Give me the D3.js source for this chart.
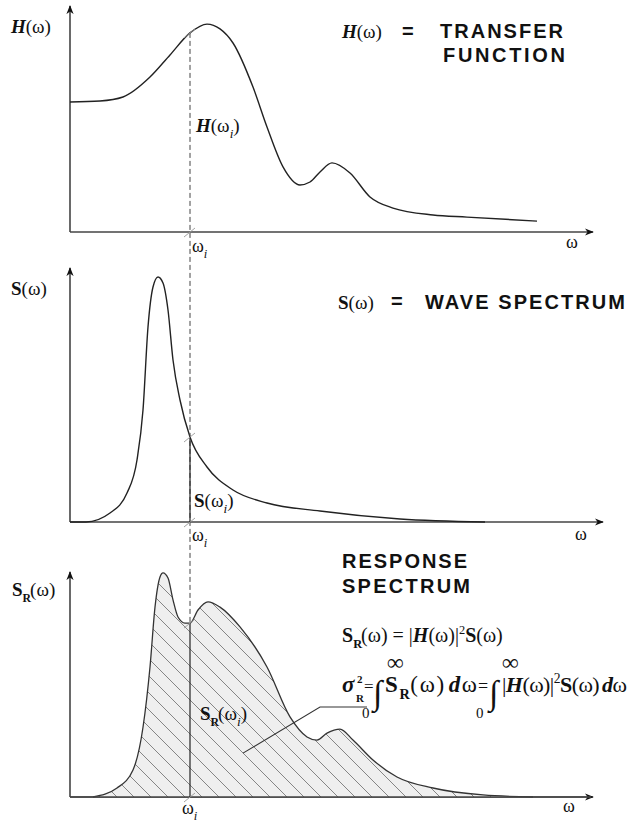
<!DOCTYPE html>
<html><head><meta charset="utf-8">
<script src="https://cdn.jsdelivr.net/npm/d3@7"></script>
<style>html,body{margin:0;padding:0;background:#fff;}svg{display:block;}</style>
</head><body>
<svg id="chart" width="629" height="825"></svg>
<script>
// ---------- DATA ----------
const omegaI = 12;
// Transfer function H(ω)
const hOmega = [0, 3, 5.3, 8, 10, 12, 13.7, 15, 16.3, 18.3, 19.7, 21.3, 23, 24, 25, 26.2, 28, 30, 32.3, 36.3, 39.7, 46.7];
const hValue = [6.19, 6.24, 6.43, 7.38, 8.43, 9.48, 9.9, 9.67, 9.0, 6.9, 5.0, 3.1, 2.24, 2.38, 2.86, 3.29, 2.81, 1.67, 1.14, 0.81, 0.71, 0.52];
// Wave spectrum S(ω)
const sOmega = [0, 1.6, 4, 5.7, 6.7, 7.3, 7.8, 8.3, 8.8, 9.3, 9.8, 10.3, 11, 12, 13.7, 16.3, 19.7, 25, 33, 41.5];
const sValue = [0, 0, 0.36, 1.16, 2.48, 4.48, 7.8, 9.4, 9.8, 9.56, 8.48, 6.48, 4.88, 3.4, 2.2, 1.28, 0.76, 0.44, 0.12, 0];
// Response spectrum S_R(ω)
const rOmega = [0, 2.3, 4.7, 6.3, 7.3, 8, 8.5, 9, 9.3, 9.8, 10.3, 10.8, 11.5, 12, 12.8, 13.8, 15, 17, 19.7, 22, 23.7, 24.7, 25.7, 27, 28.3, 30.3, 32.7, 36.3, 41.3, 46.3];
const rValue = [0, 0, 0.4, 1.2, 3.1, 5.78, 8.44, 9.78, 9.96, 9.73, 8.76, 8.0, 7.73, 7.73, 8.31, 8.67, 8.44, 7.56, 5.78, 3.56, 2.67, 2.53, 2.84, 3.02, 2.53, 1.64, 0.89, 0.4, 0.09, 0];
// leader line from S_R(ω_i) label into the area (data coords)
const leaderOmega = [17.3, 25, 29.7];
const leaderValue = [1.95, 4, 4];

// ---------- SETUP ----------
const svg = d3.select('#chart');
const SERIF = "'Liberation Serif','Times New Roman',serif";
const SANS = "'Liberation Sans',Arial,sans-serif";
const axisCol = '#444';

const defs = svg.append('defs');
defs.append('marker').attr('id','arrow').attr('viewBox','0 0 10 10')
  .attr('refX',9).attr('refY',5).attr('markerWidth',9).attr('markerHeight',9)
  .attr('markerUnits','userSpaceOnUse').attr('orient','auto')
  .append('path').attr('d','M0,1 L10,5 L0,9 L3,5 z').attr('fill','#111');
const pat = defs.append('pattern').attr('id','hatch').attr('patternUnits','userSpaceOnUse')
  .attr('width',17).attr('height',17);
pat.append('rect').attr('width',17).attr('height',17).attr('fill','#efefef');
pat.append('path').attr('d','M0,0 L17,17 M-2,15 L2,19 M15,-2 L19,2')
  .attr('stroke','#6a6a6a').attr('stroke-width',0.8);

const x = d3.scaleLinear().domain([0, 52]).range([70, 590]);
const panels = [
  {y: d3.scaleLinear().domain([0,10]).range([232, 22]), top: 6, xEnd: 593},
  {y: d3.scaleLinear().domain([0,10]).range([522, 272]), top: 268, xEnd: 603},
  {y: d3.scaleLinear().domain([0,10]).range([797, 572]), top: 572, xEnd: 593}
];
function interp(xs, ys, v){
  const i = d3.bisectRight(xs, v) - 1;
  const t = (v - xs[i]) / (xs[i+1] - xs[i]);
  return ys[i] + t * (ys[i+1] - ys[i]);
}

// ---------- AXES ----------
panels.forEach(p => {
  const y0 = p.y(0);
  svg.append('line').attr('x1',x(0)).attr('x2',x(0)).attr('y1',y0).attr('y2',p.top)
    .attr('stroke',axisCol).attr('stroke-width',1.6).attr('marker-end','url(#arrow)');
  svg.append('line').attr('x1',x(0)).attr('x2',p.xEnd).attr('y1',y0).attr('y2',y0)
    .attr('stroke',axisCol).attr('stroke-width',1.6).attr('marker-end','url(#arrow)');
});

// ---------- CURVES ----------
const p1 = panels[0], p2 = panels[1], p3 = panels[2];
const curve = d3.curveMonotoneX;
const hData = hOmega.map((w,i)=>[w,hValue[i]]);
const sData = sOmega.map((w,i)=>[w,sValue[i]]);
const rData = rOmega.map((w,i)=>[w,rValue[i]]);

svg.append('path').datum(rData)
  .attr('d', d3.area().x(d=>x(d[0])).y0(p3.y(0)).y1(d=>p3.y(d[1])).curve(curve))
  .attr('fill','url(#hatch)');

svg.append('path').datum(hData)
  .attr('d', d3.line().x(d=>x(d[0])).y(d=>p1.y(d[1])).curve(curve))
  .attr('fill','none').attr('stroke','#222').attr('stroke-width',1.4);
svg.append('path').datum(sData)
  .attr('d', d3.line().x(d=>x(d[0])).y(d=>p2.y(d[1])).curve(curve))
  .attr('fill','none').attr('stroke','#222').attr('stroke-width',1.4);
svg.append('path').datum(rData.filter(d=>d[0]>=2.3))
  .attr('d', d3.line().x(d=>x(d[0])).y(d=>p3.y(d[1])).curve(curve))
  .attr('fill','none').attr('stroke','#333').attr('stroke-width',1.3);

svg.append('line').attr('x1',x(0)).attr('x2',p3.xEnd - 2).attr('y1',p3.y(0)).attr('y2',p3.y(0))
  .attr('stroke',axisCol).attr('stroke-width',1.6);

// ---------- ω_i guide lines ----------
const xi = x(omegaI);
const hI = p1.y(interp(hOmega,hValue,omegaI));
const sI = p2.y(interp(sOmega,sValue,omegaI));
const rI = p3.y(interp(rOmega,rValue,omegaI));
svg.append('line').attr('x1',xi).attr('x2',xi).attr('y1',hI).attr('y2',rI)
  .attr('stroke','#444').attr('stroke-width',1).attr('stroke-dasharray','5,3');
svg.append('line').attr('x1',xi).attr('x2',xi).attr('y1',sI).attr('y2',p2.y(0))
  .attr('stroke','#222').attr('stroke-width',1.2);
svg.append('line').attr('x1',xi).attr('x2',xi).attr('y1',rI).attr('y2',p3.y(0))
  .attr('stroke','#222').attr('stroke-width',1.2);
[hI, p1.y(0), sI, p2.y(0), rI, p3.y(0)].forEach(yy=>{
  svg.append('line').attr('x1',xi-6).attr('y1',yy+5).attr('x2',xi+5).attr('y2',yy-4)
    .attr('stroke','#999').attr('stroke-width',0.9);
});

svg.append('path').datum(leaderOmega.map((w,i)=>[w,leaderValue[i]]))
  .attr('d', d3.line().x(d=>x(d[0])).y(d=>p3.y(d[1])))
  .attr('fill','none').attr('stroke','#333').attr('stroke-width',1.1);

// ---------- TEXT ----------
function rich(x0, y0, parts, fs, opts={}){
  const t = svg.append('text').attr('x',x0).attr('y',y0)
    .attr('font-family',SERIF).attr('font-size',fs).attr('fill','#111');
  let cur = 0;
  parts.forEach(p=>{
    const shift = p.sub ? fs*0.32 : (p.sup ? -fs*0.42 : 0);
    const ts = t.append('tspan').text(p.t).attr('dy', shift-cur);
    cur = shift;
    if (p.b) ts.attr('font-weight','bold');
    if (p.i) ts.attr('font-style','italic');
    if (p.sub||p.sup) ts.attr('font-size', fs*(p.ss||0.62));
    if (p.dx!=null) ts.attr('dx',p.dx);
  });
  if (opts.len) t.attr('textLength',opts.len).attr('lengthAdjust','spacing');
  return t;
}
function title(x0, y0, s, len, fs=20){
  return svg.append('text').attr('x',x0).attr('y',y0).text(s)
    .attr('font-family',SANS).attr('font-weight','bold').attr('font-size',fs).attr('fill','#111')
    .attr('textLength',len).attr('lengthAdjust','spacing');
}

// axis labels
rich(11, 33, [{t:'H',b:true,i:true},{t:'(ω)'}], 19);
rich(11, 295, [{t:'S',b:true},{t:'(ω)'}], 19);
rich(12, 596, [{t:'S',b:true},{t:'R',b:true,sub:true},{t:'(ω)',dx:-1}], 19);
// ω axis end labels
rich(566, 248, [{t:'ω'}], 18);
rich(575, 540, [{t:'ω'}], 18);
rich(563, 812, [{t:'ω'}], 18);
// ω_i labels
rich(192, 252, [{t:'ω'},{t:'i',i:true,sub:true,ss:0.7}], 18);
rich(192, 541, [{t:'ω'},{t:'i',i:true,sub:true,ss:0.7}], 18);
rich(182, 814, [{t:'ω'},{t:'i',i:true,sub:true,ss:0.7}], 18);
// value labels
rich(196, 132, [{t:'H',b:true,i:true},{t:'(ω'},{t:'i',i:true,sub:true,ss:0.7},{t:')'}], 19);
rich(194, 507, [{t:'S',b:true},{t:'(ω'},{t:'i',i:true,sub:true,ss:0.7},{t:')'}], 19);
rich(200, 720, [{t:'S',b:true},{t:'R',b:true,sub:true},{t:'(ω',dx:-1},{t:'i',i:true,sub:true,ss:0.7},{t:')'}], 19);

// panel titles
rich(342, 38, [{t:'H',b:true,i:true},{t:'(ω)'}], 19);
title(402, 38, '=', 11);
title(440, 38, 'TRANSFER', 123);
title(443, 62, 'FUNCTION', 122);
rich(338, 309, [{t:'S',b:true},{t:'(ω)'}], 19);
title(391, 308, '=', 11);
title(425, 309, 'WAVE SPECTRUM', 200);
title(342, 568, 'RESPONSE', 125);
title(342, 593, 'SPECTRUM', 128);

// formula 1
rich(342, 642, [{t:'S',b:true},{t:'R',b:true,sub:true},{t:'(ω) = |',dx:-1},{t:'H',b:true,i:true},{t:'(ω)|'},{t:'2',sup:true},{t:'S',b:true},{t:'(ω)'}], 20);

// formula 2
rich(342, 692, [{t:'σ',i:true,b:true}], 23);
rich(356, 702, [{t:'R',b:true}], 11);
rich(357, 683, [{t:'2',b:true}], 11);
rich(364, 692, [{t:'='}], 17);
svg.append('text').attr('x',373).attr('y',704).text('∫').attr('font-family',SERIF).attr('font-size',34).attr('fill','#111');
rich(387, 670, [{t:'∞',b:true}], 23);
rich(362, 718, [{t:'0'}], 15);
rich(385, 692, [{t:'S',b:true},{t:'R',b:true,sub:true},{t:'(ω)',dx:-1},{t:'d',b:true,i:true,dx:3},{t:'ω'}], 23, {len:92});
rich(478, 692, [{t:'='}], 18);
svg.append('text').attr('x',489).attr('y',704).text('∫').attr('font-family',SERIF).attr('font-size',34).attr('fill','#111');
rich(502, 670, [{t:'∞',b:true}], 23);
rich(476, 718, [{t:'0'}], 15);
rich(502, 692, [{t:'|'},{t:'H',b:true,i:true},{t:'(ω)|'},{t:'2',sup:true},{t:'S',b:true},{t:'(ω)'},{t:'d',b:true,i:true,dx:3},{t:'ω'}], 22, {len:125});
</script>
</body></html>
